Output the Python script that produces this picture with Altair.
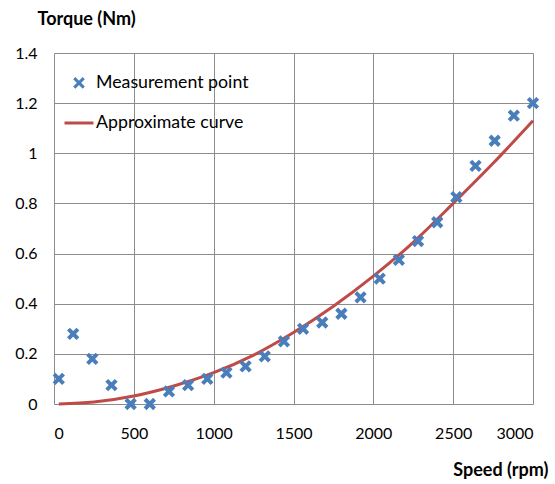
import altair as alt
import pandas as pd

# Measurement points
speed_pts = [30, 120, 240, 360, 480, 600, 720, 840, 960, 1080, 1200, 1320, 1440,
             1560, 1680, 1800, 1920, 2040, 2160, 2280, 2400, 2520, 2640, 2760, 2880, 3000]
torque_pts = [0.10, 0.28, 0.18, 0.075, 0.0, 0.0, 0.05, 0.075, 0.10, 0.125, 0.15, 0.19, 0.25,
              0.30, 0.325, 0.36, 0.425, 0.50, 0.575, 0.65, 0.725, 0.825, 0.95, 1.05, 1.15, 1.20]

# Approximate curve
speed_curve = [30, 250, 500, 750, 1000, 1250, 1500, 1750, 2000, 2250, 2500, 2750, 3000]
torque_curve = [0.0, 0.008, 0.032, 0.072, 0.125, 0.195, 0.285, 0.39, 0.51, 0.645, 0.80, 0.96, 1.13]

series_names = ["Measurement point", "Approximate curve"]
series_colors = ["#4a7ebb", "#be4b48"]
x_path = "M-1,-1L1,1M1,-1L-1,1"

pts = pd.DataFrame({"speed": speed_pts, "torque": torque_pts, "series": series_names[0]})
curve = pd.DataFrame({"speed": speed_curve, "torque": torque_curve})

FONT = "Lato"

x_enc = alt.X("speed:Q",
              scale=alt.Scale(domain=[0, 3000], nice=False, zero=False),
              axis=alt.Axis(values=[0, 500, 1000, 1500, 2000, 2500, 3000], format="d",
                            title="Speed (rpm)", titleFont=FONT, titleFontSize=18,
                            titleFontWeight="bold", titleColor="#000",
                            titleAnchor="end", titleAlign="right", titleBaseline="alphabetic",
                            titleX=494, titleY=71, titleAngle=0,
                            labelFont=FONT, labelFontSize=16, labelColor="#000",
                            labelPadding=21, tickSize=0, domain=False,
                            grid=True, gridColor="#8c8c8c", gridWidth=1))
y_enc = alt.Y("torque:Q",
              scale=alt.Scale(domain=[0, 1.4], nice=False),
              axis=alt.Axis(values=[0, 0.2, 0.4, 0.6, 0.8, 1.0, 1.2, 1.4],
                            labelExpr="format(datum.value, '.1~f')",
                            title="Torque (Nm)", titleFont=FONT, titleFontSize=18,
                            titleFontWeight="bold", titleColor="#000",
                            titleAngle=0, titleAlign="left", titleBaseline="alphabetic",
                            titleX=-17, titleY=-29,
                            labelFont=FONT, labelFontSize=16, labelColor="#000",
                            labelPadding=17, tickSize=0, domain=False,
                            grid=True, gridColor="#8c8c8c", gridWidth=1))

points = alt.Chart(pts).mark_point(filled=False, strokeWidth=4, opacity=1).encode(
    x=x_enc,
    y=y_enc,
    color=alt.Color("series:N", scale=alt.Scale(domain=series_names, range=series_colors),
                    legend=alt.Legend(title=None, orient="none", legendX=9, legendY=21,
                                      labelFont=FONT, labelFontSize=17.75, labelColor="#000",
                                      labelOffset=1, rowPadding=13, symbolStrokeWidth=3,
                                      padding=0)),
    shape=alt.Shape("series:N", scale=alt.Scale(domain=series_names, range=[x_path, "stroke"])),
    size=alt.Size("series:N", scale=alt.Scale(domain=series_names, range=[90, 841])),
)

line = alt.Chart(curve).mark_line(color=series_colors[1], strokeWidth=3,
                                  interpolate="monotone").encode(
    x="speed:Q", y="torque:Q")

chart = alt.layer(line, points).properties(
    width=479, height=351,
    autosize=alt.AutoSizeParams(type="none"),
    padding={"left": 54, "top": 53, "right": 22, "bottom": 80},
).configure_view(stroke="#8c8c8c", strokeWidth=1).configure(background="white")

chart.save("out.html", embed_options={"renderer": "svg", "actions": False})
